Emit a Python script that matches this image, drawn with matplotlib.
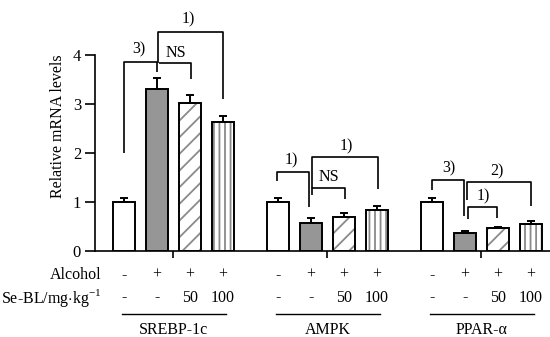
import numpy as np
import matplotlib.pyplot as plt
from matplotlib.transforms import blended_transform_factory

plt.rcParams['font.family'] = ['Liberation Serif', 'DejaVu Serif']
plt.rcParams['mathtext.fontset'] = 'custom'
plt.rcParams['mathtext.rm'] = 'Liberation Serif'
plt.rcParams['hatch.linewidth'] = 1.3

# data
genes = ['SREBP-1c', 'AMPK', 'PPAR-\u03b1']
alcohol = ['-', '+', '+', '+']
dose = ['-', '-', '50', '100']
means = [[1.00, 3.31, 3.03, 2.63],
         [1.00, 0.57, 0.69, 0.83],
         [1.00, 0.36, 0.47, 0.55]]
errs = [[0.08, 0.22, 0.15, 0.12],
        [0.08, 0.10, 0.08, 0.08],
        [0.09, 0.05, 0.02, 0.06]]

# significance brackets: x_left, x_right, top, left_bottom, right_bottom, label, label_x, label_y
brackets = [
    (0.00, 0.99, 3.87, 2.00, 3.67, '3)', 0.45, 4.12),
    (1.06, 2.02, 3.84, 3.84, 3.52, 'NS', 1.57, 4.04),
    (1.03, 2.99, 4.47, 3.84, 3.10, '1)', 1.95, 4.74),
    (4.63, 5.62, 1.61, 1.42, 0.90, '1)', 5.08, 1.84),
    (5.70, 6.70, 1.28, 1.14, 1.06, 'NS', 6.21, 1.50),
    (5.69, 7.71, 1.91, 1.28, 1.27, '1)', 6.75, 2.14),
    (9.32, 10.31, 1.45, 1.24, 0.71, '3)', 9.86, 1.68),
    (10.40, 12.32, 1.40, 1.04, 0.92, '2)', 11.29, 1.63),
    (10.43, 11.29, 0.89, 0.64, 0.68, '1)', 10.89, 1.12),
]

faces = ['white', '#969696', 'white', 'white']
hatches = [None, None, '//', '|||']
group_step = 4.667
width = 0.667

fig = plt.figure(figsize=(5.5, 3.37), dpi=100)
ax = fig.add_axes([0.1727, 0.256, 0.8273, 0.739])

for g in range(len(genes)):
    xs = g * group_step + np.arange(4)
    for i in range(4):
        if hatches[i]:
            ax.bar(xs[i], means[g][i], width, color='white', edgecolor='#8a8a8a',
                   hatch=hatches[i], linewidth=0, zorder=2)
            ax.bar(xs[i], means[g][i], width, fill=False, edgecolor='black',
                   linewidth=1.4, zorder=3)
        else:
            ax.bar(xs[i], means[g][i], width, color=faces[i], edgecolor='black',
                   linewidth=1.4, zorder=3)
    ax.errorbar(xs, means[g], yerr=[np.zeros(4), errs[g]], fmt='none',
                ecolor='black', elinewidth=1.4, capsize=3, capthick=1.4, zorder=4)

for xl, xr, top, lb, rb, lab, lx, ly in brackets:
    ax.plot([xl, xl, xr, xr], [lb, top, top, rb], color='black', lw=1.2,
            solid_capstyle='butt', zorder=5)
    ax.text(lx, ly, lab, ha='center', va='center', fontsize=11.5)

ax.set_xlim(-0.879, 12.91)
ax.set_ylim(0, 5.1)
ax.spines['top'].set_visible(False)
ax.spines['right'].set_visible(False)
ax.spines['left'].set_bounds(0, 4)
ax.spines['left'].set_linewidth(1.2)
ax.spines['bottom'].set_linewidth(1.2)
ax.set_yticks([0, 1, 2, 3, 4])
ax.tick_params(axis='y', labelsize=12, length=7, width=1.2, pad=3)
ax.set_xticks([g * group_step + 1.5 for g in range(len(genes))])
ax.set_xticklabels([])
ax.tick_params(axis='x', length=5, width=1.2)
ax.set_ylabel('Relative mRNA levels', fontsize=11.5, labelpad=5)

# table of treatments below the axis
tr = blended_transform_factory(ax.transData, fig.transFigure)
fig.text(0.185, 0.184, 'Alcohol', ha='right', va='center', fontsize=11.5)
fig.text(0.185, 0.117, r'Se-BL/mg$\cdot$kg$^{-1}$', ha='right', va='center', fontsize=11.5)
for g, name in enumerate(genes):
    xs = g * group_step + np.arange(4)
    for i in range(4):
        ax.text(xs[i], 0.184, alcohol[i], transform=tr, ha='center', va='center', fontsize=11.5)
        ax.text(xs[i], 0.117, dose[i], transform=tr, ha='center', va='center', fontsize=11.5)
    x0 = g * group_step
    ax.plot([x0 - 0.05, x0 + 3.1], [0.068, 0.068], transform=tr, color='black',
            lw=1.0, clip_on=False)
    ax.text(x0 + 1.5, 0.02, name, transform=tr, ha='center', va='center', fontsize=11.5)

fig.savefig('out.png', dpi=100)
